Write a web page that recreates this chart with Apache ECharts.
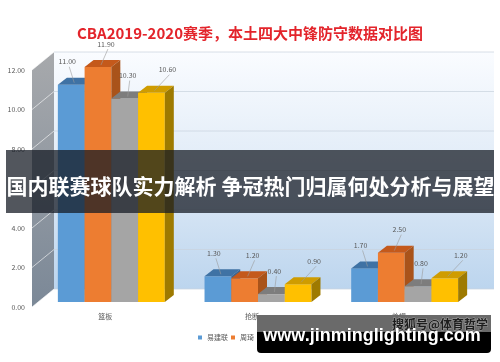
<!DOCTYPE html>
<html>
<head>
<meta charset="utf-8">
<script src="https://cdn.jsdelivr.net/npm/echarts@6/dist/echarts.min.js"></script>
<style>
html,body{margin:0;padding:0;background:#fff;}
#chart{width:500px;height:362px;}
</style>
</head>
<body>
<div id="chart"></div>
<script>
// ---- data ----
const titleText = 'CBA2019-2020赛季，本土四大中锋防守数据对比图';
const categories = ['篮板', '抢断', '盖帽'];
const players = ['易建联', '周琦', '韩德君', '王哲林'];
const yiJianlian = [11.00, 1.30, 1.70];
const zhouQi = [11.90, 1.20, 2.50];
const hanDejun = [10.30, 0.40, 0.80];
const wangZhelin = [10.60, 0.90, 1.20];
const yTicks = [0, 2, 4, 6, 8, 10, 12];
const bannerText = '国内联赛球队实力解析 争冠热门归属何处分析与展望';
const siteText = 'www.jinminglighting.com';
const sohuText = '搜狐号@体育哲学';

// ---- style ----
const FONT = '"Noto Sans CJK SC", "Noto Sans", sans-serif';
const front = ['#5b9bd5', '#ed7d31', '#a5a5a5', '#ffc000'];
const topC = ['#3f72a4', '#c4591b', '#7d7d7d', '#cf9c00'];
const sideC = ['#3a6591', '#a9531a', '#808080', '#9e7a00'];
const labelDx = [-4, 8, 3, 16];
const BOX = { dx: 22, dy: -18 };     // depth of the whole box
const OFF = { dx: 6, dy: -5 };       // bar plane offset
const DEP = { dx: 9, dy: -7 };       // bar depth

const allValues = [yiJianlian, zhouQi, hanDejun, wangZhelin];

function wallsRender(params, api) {
  const cs = params.coordSys;
  const x = cs.x, y = cs.y, w = cs.width, h = cs.height;
  const children = [];
  children.push({
    type: 'rect',
    shape: { x: x + BOX.dx, y: y + BOX.dy, width: w, height: h },
    style: {
      fill: new echarts.graphic.LinearGradient(0, 0, 0, 1, [
        { offset: 0, color: '#fafcff' },
        { offset: 0.55, color: '#dde9f6' },
        { offset: 1, color: '#bcd5ee' }
      ])
    }
  });
  children.push({
    type: 'polygon',
    shape: { points: [[x, y], [x + BOX.dx, y + BOX.dy], [x + BOX.dx, y + h + BOX.dy], [x, y + h]] },
    style: {
      fill: new echarts.graphic.LinearGradient(0, 0, 0, 1, [
        { offset: 0, color: '#a7a9ac' },
        { offset: 1, color: '#7b8897' }
      ])
    }
  });
  yTicks.forEach(function (t) {
    const yy = api.coord([0, t])[1];
    children.push({
      type: 'line',
      shape: { x1: x, y1: yy, x2: x + BOX.dx, y2: yy + BOX.dy },
      style: { stroke: 'rgba(255,255,255,0.75)', lineWidth: 0.8 }
    });
    children.push({
      type: 'line',
      shape: { x1: x + BOX.dx, y1: yy + BOX.dy, x2: x + BOX.dx + w, y2: yy + BOX.dy },
      style: { stroke: 'rgba(200,210,222,0.9)', lineWidth: 0.8 }
    });
  });
  return { type: 'group', children: children };
}

function barRender(sIdx) {
  return function (params, api) {
    const ci = api.value(0), v = api.value(1);
    const base = api.coord([ci, 0]);
    const tp = api.coord([ci, v]);
    const band = api.size([1, 0])[0];
    const bw = band * 0.1823;
    const x0 = base[0] - 2 * bw + sIdx * bw + OFF.dx;
    const yb = base[1] + OFF.dy;
    const yt = tp[1] + OFF.dy;
    const cx = x0 + bw / 2;
    const lx = cx + labelDx[sIdx], ly = yt - 23;
    return {
      type: 'group',
      children: [
        { type: 'rect', shape: { x: x0, y: yt, width: bw, height: yb - yt }, style: { fill: front[sIdx] } },
        { type: 'polygon', shape: { points: [[x0, yt], [x0 + bw, yt], [x0 + bw + DEP.dx, yt + DEP.dy], [x0 + DEP.dx, yt + DEP.dy]] }, style: { fill: topC[sIdx] } },
        { type: 'polygon', shape: { points: [[x0 + bw, yt], [x0 + bw + DEP.dx, yt + DEP.dy], [x0 + bw + DEP.dx, yb + DEP.dy], [x0 + bw, yb]] }, style: { fill: sideC[sIdx] } },
        { type: 'line', shape: { x1: lx + 2, y1: ly + 5, x2: cx + 3, y2: yt - 2 }, style: { stroke: '#9a9a9a', lineWidth: 0.6 } },
        { type: 'text', style: { x: lx, y: ly, text: v.toFixed(2), fill: '#595959', fontSize: 7, fontFamily: FONT, align: 'center', verticalAlign: 'middle' } }
      ]
    };
  };
}

const series = [{
  type: 'custom',
  name: '_walls',
  renderItem: wallsRender,
  data: [[0, 0]],
  silent: true,
  z: 1
}];
players.forEach(function (p, i) {
  series.push({
    type: 'custom',
    name: p,
    renderItem: barRender(i),
    itemStyle: { color: front[i] },
    data: allValues[i].map(function (v, ci) { return [ci, v]; }),
    z: 2 + i
  });
});

const chart = echarts.init(document.getElementById('chart'), null, { renderer: 'canvas' });
chart.setOption({
  animation: false,
  backgroundColor: '#fff',
  title: {
    text: titleText,
    left: 'center',
    top: 21,
    textStyle: { color: '#e3242b', fontSize: 15, fontWeight: 'bold', fontFamily: FONT }
  },
  legend: {
    data: players,
    left: 193,
    top: 329,
    icon: 'rect',
    itemWidth: 4,
    itemHeight: 4,
    itemGap: 3,
    textStyle: { fontSize: 7, color: '#595959', fontFamily: FONT }
  },
  grid: { left: 32, right: 28, top: 70, bottom: 55 },
  xAxis: {
    type: 'category',
    data: categories,
    axisLine: { show: false },
    axisTick: { show: false },
    axisLabel: { fontSize: 7, color: '#595959', margin: 6, fontFamily: FONT },
    splitLine: { show: false }
  },
  yAxis: {
    type: 'value',
    min: 0,
    max: 12,
    interval: 2,
    axisLine: { show: false },
    axisTick: { show: false },
    splitLine: { show: false },
    axisLabel: { fontSize: 7, color: '#595959', margin: 7, fontFamily: FONT, formatter: function (v) { return v.toFixed(2); } }
  },
  series: series,
  graphic: [
    { type: 'rect', z: 100, shape: { x: 6, y: 150, width: 488, height: 63 }, style: { fill: 'rgba(22,27,36,0.74)' } },
    { type: 'text', z: 101, style: { x: 250.5, y: 186, text: bannerText, fill: '#fff', fontSize: 21, fontWeight: 'bold', fontFamily: FONT, align: 'center', verticalAlign: 'middle' } },
    { type: 'rect', z: 100, shape: { x: 257, y: 315, width: 234, height: 18 }, style: { fill: '#6a6a6a' } },
    { type: 'rect', z: 100, shape: { x: 257, y: 332, width: 234, height: 21, r: [0, 0, 4, 4] }, style: { fill: '#000' } },
    { type: 'text', z: 101, style: { x: 488, y: 324, text: sohuText, fill: '#1e1e1e', fontSize: 12, fontWeight: 'bold', fontFamily: FONT, align: 'right', verticalAlign: 'middle', stroke: 'rgba(255,255,255,0.35)', lineWidth: 1 } },
    { type: 'text', z: 102, style: { x: 372, y: 336, text: siteText, fill: '#fff', fontSize: 18, fontWeight: 'bold', fontFamily: '"Liberation Sans", Arial, sans-serif', align: 'center', verticalAlign: 'middle' } }
  ]
});
</script>
</body>
</html>
